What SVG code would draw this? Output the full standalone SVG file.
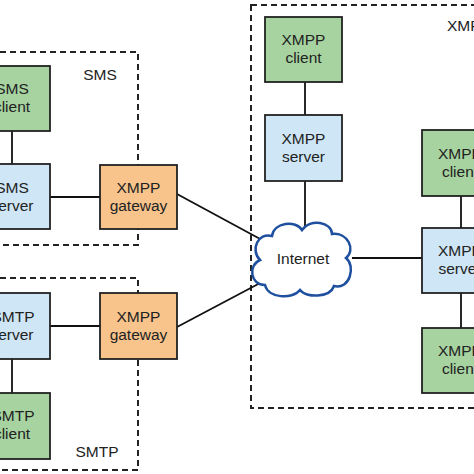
<svg xmlns="http://www.w3.org/2000/svg" width="474" height="474" viewBox="0 0 474 474">
<style>
.box{stroke:#222;stroke-width:1.8}
.client{fill:#a7d3a0}
.server{fill:#cfe6f6}
.gw{fill:#f8c48c}
.zone{fill:none;stroke:#222;stroke-width:2;stroke-dasharray:6 4}
.conn{stroke:#111;stroke-width:1.8;fill:none}
text{font-family:"Liberation Sans",Arial,sans-serif;font-size:15.5px;fill:#222;text-anchor:middle}
</style>
<rect width="474" height="474" fill="#fff"/>
<g id="zones">
<rect class="zone" x="-10" y="52" width="148" height="193"/>
<rect class="zone" x="-10" y="278" width="148" height="192"/>
<rect class="zone" x="251" y="5" width="240" height="403"/>
<text x="100" y="80">SMS</text>
<text x="97" y="457">SMTP</text>
<text x="469" y="31">XMPP</text>
</g>
<g id="connectors">
<line class="conn" x1="12" y1="131" x2="12" y2="164"/>
<line class="conn" x1="50" y1="197" x2="100" y2="197"/>
<line class="conn" x1="12" y1="359" x2="12" y2="393"/>
<line class="conn" x1="50" y1="326" x2="100" y2="326"/>
<line class="conn" x1="177" y1="194" x2="262" y2="240"/>
<line class="conn" x1="177" y1="327" x2="262" y2="282"/>
<line class="conn" x1="305" y1="82" x2="305" y2="115"/>
<line class="conn" x1="305" y1="181" x2="305" y2="226"/>
<line class="conn" x1="352" y1="258" x2="422" y2="258"/>
<line class="conn" x1="461" y1="196" x2="461" y2="228"/>
<line class="conn" x1="461" y1="293" x2="461" y2="328"/>
</g>
<g id="sms-client"><rect class="box client" x="-10" y="66" width="60" height="65"/><text x="12" y="94">SMS</text><text x="12" y="112">client</text></g>
<g id="sms-server"><rect class="box server" x="-10" y="164" width="60" height="65"/><text x="12" y="193">SMS</text><text x="12" y="211">server</text></g>
<g id="sms-gateway"><rect class="box gw" x="100" y="165" width="77" height="64"/><text x="138.5" y="193">XMPP</text><text x="138.5" y="211">gateway</text></g>
<g id="smtp-server"><rect class="box server" x="-10" y="293" width="60" height="66"/><text x="13" y="322">SMTP</text><text x="12" y="340">server</text></g>
<g id="smtp-gateway"><rect class="box gw" x="100" y="293" width="77" height="66"/><text x="138.5" y="322">XMPP</text><text x="138.5" y="340">gateway</text></g>
<g id="smtp-client"><rect class="box client" x="-10" y="393" width="60" height="66"/><text x="13" y="421">SMTP</text><text x="12" y="439">client</text></g>
<g id="xmpp-client-top"><rect class="box client" x="265" y="17" width="77" height="65"/><text x="303.5" y="45">XMPP</text><text x="303.5" y="63">client</text></g>
<g id="xmpp-server-top"><rect class="box server" x="265" y="115" width="77" height="66"/><text x="303.5" y="144">XMPP</text><text x="303.5" y="162">server</text></g>
<g id="internet">
<path d="M265 285 C250 285 248 265 260 260 C250 250 258 232 272 236 C274 222 296 220 302 230 C310 218 332 222 332 234 C348 232 356 250 346 258 C356 266 350 290 334 286 C330 298 306 298 300 290 C292 300 268 298 265 285 Z" fill="#fff" stroke="#1f4f9f" stroke-width="2.5"/>
<text x="303" y="264">Internet</text>
</g>
<g id="xmpp-client-right"><rect class="box client" x="422" y="130" width="77" height="66"/><text x="460" y="159">XMPP</text><text x="460" y="177">client</text></g>
<g id="xmpp-server-right"><rect class="box server" x="422" y="228" width="77" height="65"/><text x="460" y="256">XMPP</text><text x="460" y="274">server</text></g>
<g id="xmpp-client-bottom"><rect class="box client" x="422" y="328" width="77" height="65"/><text x="460" y="356">XMPP</text><text x="460" y="374">client</text></g>
</svg>
